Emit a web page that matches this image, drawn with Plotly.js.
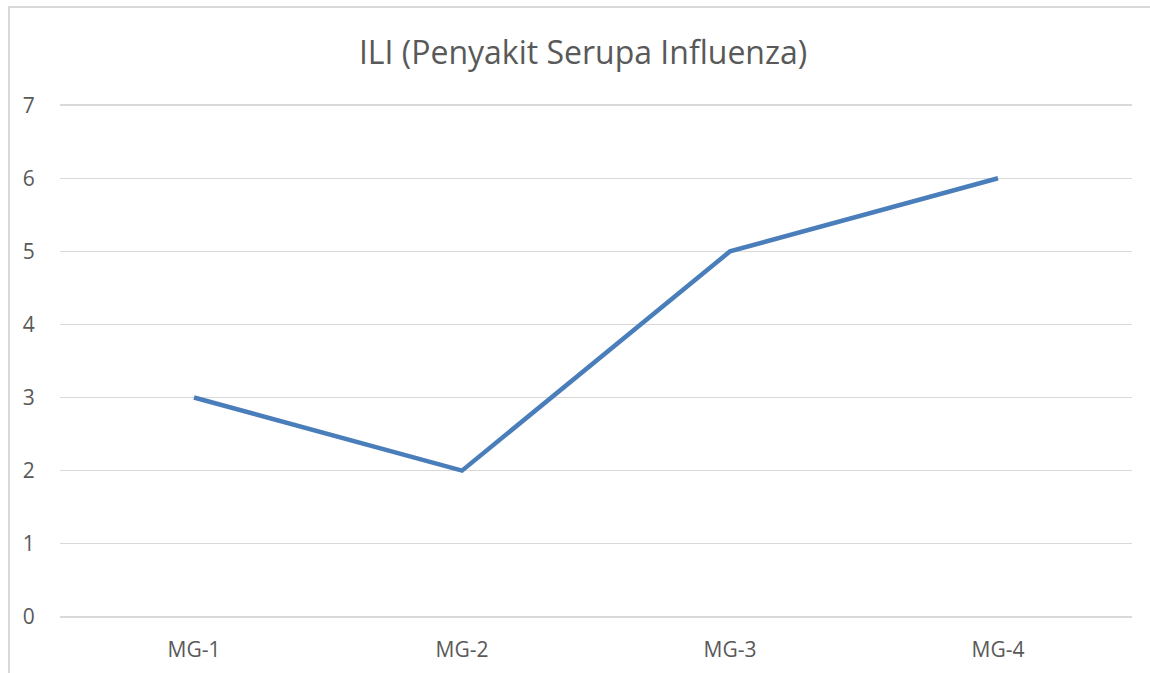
<!DOCTYPE html>
<html>
<head>
<meta charset="utf-8">
<script src="https://cdn.plot.ly/plotly-3.0.1.min.js"></script>
<style>
html,body{margin:0;padding:0;background:#fff;}
#frame{position:absolute;left:8px;top:6px;width:1200px;height:700px;border:2px solid #d9d9d9;box-sizing:border-box;pointer-events:none;z-index:5;}
#chart{position:absolute;left:0;top:0;width:1150px;height:673px;}
</style>
</head>
<body>
<div id="chart"></div>
<div id="frame"></div>
<script>
const categories = ["MG-1", "MG-2", "MG-3", "MG-4"];
const iliValues = [3, 2, 5, 6];
const yTicks = [0, 1, 2, 3, 4, 5, 6, 7];

const trace = {
  x: categories,
  y: iliValues,
  type: 'scatter',
  mode: 'lines',
  line: {color: '#4a7ebb', width: 4.5},
  hoverinfo: 'x+y'
};

const fontFam = '"Open Sans", Lato, sans-serif';

const layout = {
  width: 1150,
  height: 673,
  paper_bgcolor: '#ffffff',
  plot_bgcolor: '#ffffff',
  margin: {l: 60, r: 18, t: 103, b: 54},
  showlegend: false,
  font: {family: fontFam, color: '#595959'},
  title: {
    text: 'ILI (Penyakit Serupa Influenza)',
    font: {size: 32, color: '#595959', family: fontFam},
    x: 0.507, xanchor: 'center',
    y: 0.922, yanchor: 'middle'
  },
  xaxis: {
    type: 'category',
    range: [-0.5, 3.5],
    showgrid: false,
    zeroline: false,
    showline: false,
    ticks: 'outside',
    ticklen: 12,
    tickcolor: 'rgba(0,0,0,0)',
    tickfont: {size: 21, color: '#595959'}
  },
  yaxis: {
    range: [-0.03, 7.03],
    tickvals: yTicks,
    ticktext: yTicks.map(String),
    showgrid: true,
    gridcolor: '#d9d9d9',
    gridwidth: 1.5,
    zeroline: false,
    showline: false,
    ticks: 'outside',
    ticklen: 20,
    tickcolor: 'rgba(0,0,0,0)',
    tickfont: {size: 21, color: '#595959'}
  }
};

Plotly.newPlot('chart', [trace], layout, {displayModeBar: false, staticPlot: true});
</script>
</body>
</html>
